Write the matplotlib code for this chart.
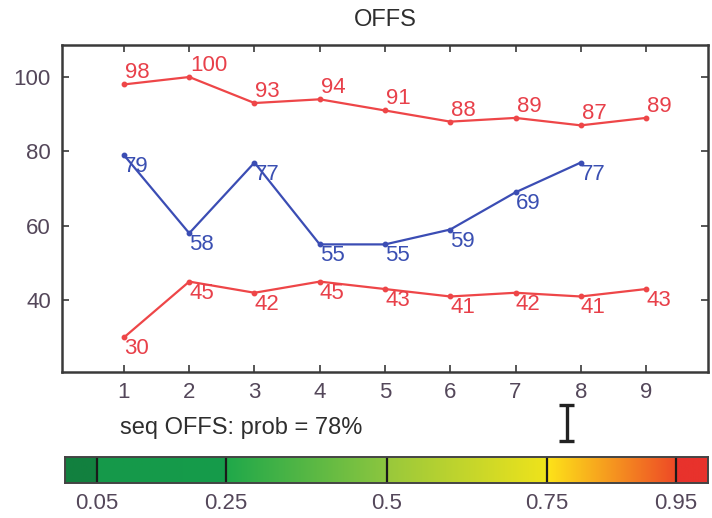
import numpy as np
import matplotlib
matplotlib.use("Agg")
import matplotlib.pyplot as plt
from matplotlib.colors import LinearSegmentedColormap
import matplotlib.transforms as mtransforms

plt.rcParams['font.family'] = ['Liberation Sans', 'DejaVu Sans']

# ---- data ----
steps = [1, 2, 3, 4, 5, 6, 7, 8, 9]
upper_red = [98, 100, 93, 94, 91, 88, 89, 87, 89]
blue_steps = [1, 2, 3, 4, 5, 6, 7, 8]
blue_vals = [79, 58, 77, 55, 55, 59, 69, 77]
lower_red = [30, 45, 42, 45, 43, 41, 42, 41, 43]
y_ticks = [40, 60, 80, 100]
prob_ticks = [0.05, 0.25, 0.5, 0.75, 0.95]
prob_tick_labels = ['0.05', '0.25', '0.5', '0.75', '0.95']
prob = 0.78
title = 'OFFS'
caption = 'seq OFFS: prob = 78%'

RED = '#ee4648'
RED_TXT = '#e8404a'
BLUE = '#3b4db4'
BLUE_TXT = '#3a4fb2'
TICK_TXT = '#54475a'
FRAME = '#3a3a3a'

fig = plt.figure(figsize=(7.12, 5.18), dpi=100)
fig.patch.set_facecolor('white')

ax = fig.add_axes([62 / 712, 1 - 372 / 518, 646 / 712, 327 / 518])
ax.set_xlim(0.05, 9.95)
ax.set_ylim(20.7, 108.6)

ax.plot(steps, upper_red, color=RED, lw=1.6, marker='o', ms=3.2)
ax.plot(blue_steps, blue_vals, color=BLUE, lw=1.6, marker='o', ms=3.2)
ax.plot(steps, lower_red, color=RED, lw=1.6, marker='o', ms=3.2)

NUM_SIZE = 16
above = mtransforms.offset_copy(ax.transData, fig=fig, x=1, y=1, units='dots')
below = mtransforms.offset_copy(ax.transData, fig=fig, x=0, y=-1, units='dots')
for x, v in zip(steps, upper_red):
    ax.text(x, v, str(v), color=RED_TXT, fontsize=NUM_SIZE,
            ha='left', va='bottom', transform=above)
for x, v in zip(blue_steps, blue_vals):
    ax.text(x, v, str(v), color=BLUE_TXT, fontsize=NUM_SIZE,
            ha='left', va='top', transform=below)
for x, v in zip(steps, lower_red):
    ax.text(x, v, str(v), color=RED_TXT, fontsize=NUM_SIZE,
            ha='left', va='top', transform=below)

ax.set_xticks(steps)
ax.set_yticks(y_ticks)
ax.tick_params(direction='in', length=5, width=1.2, color=FRAME,
               top=True, right=True, labelsize=NUM_SIZE, labelcolor=TICK_TXT)
ax.tick_params(axis='y', pad=8)
ax.tick_params(axis='x', pad=7)
for s in ax.spines.values():
    s.set_color(FRAME)
    s.set_linewidth(1.8)
ax.set_title(title, fontsize=17, color='#2e2e2e', pad=14)

fig.text(120 / 712, 1 - 428 / 518, caption, fontsize=17, color='#2e2e2e',
         ha='left', va='center')

# ---- probability colour bar ----
cmap = LinearSegmentedColormap.from_list('prob', [
    (0.0, '#12803f'), (0.05, '#12803f'),
    (0.0501, '#15994a'), (0.25, '#169c4a'),
    (0.2501, '#1fa84a'), (0.5, '#8cc63f'),
    (0.5001, '#98c83c'), (0.75, '#efe31b'),
    (0.7501, '#fde419'), (0.95, '#ee4a26'),
    (0.9501, '#e8322c'), (1.0, '#e8322c'),
], N=1024)

cax = fig.add_axes([65 / 712, 1 - 483 / 518, 643 / 712, 26 / 518])
grad = np.linspace(0, 1, 1024)[None, :]
cax.imshow(grad, cmap=cmap, extent=[0, 1, 0, 1], aspect='auto', origin='lower')
cax.set_xlim(0, 1)
cax.set_ylim(0, 1)
for t in prob_ticks:
    cax.axvline(t, color='#1a1a1a', lw=1.6)
cax.set_yticks([])
cax.set_xticks(prob_ticks)
cax.set_xticklabels(prob_tick_labels)
cax.tick_params(length=0, labelsize=NUM_SIZE, labelcolor=TICK_TXT, pad=7)
for s in cax.spines.values():
    s.set_color('#444444')
    s.set_linewidth(1.4)

# marker for the sequence probability above the bar
bt = mtransforms.blended_transform_factory(cax.transData, cax.transAxes)
cap = 0.012
cax.plot([prob, prob], [1.6, 3.0], color='#222222', lw=2.4, transform=bt, clip_on=False,
         solid_capstyle='butt')
for yy in (1.6, 3.0):
    cax.plot([prob - cap, prob + cap], [yy, yy], color='#222222', lw=2.4,
             transform=bt, clip_on=False, solid_capstyle='butt')

fig.savefig('out.png', dpi=100, facecolor='white')
